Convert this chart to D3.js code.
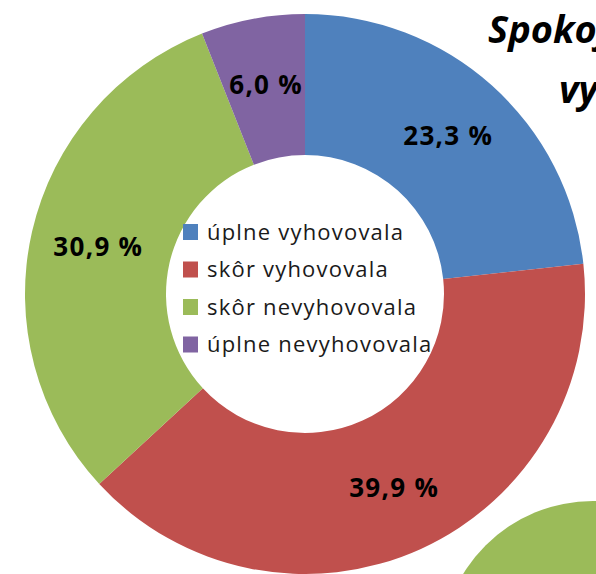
<!DOCTYPE html>
<html>
<head>
<meta charset="utf-8">
<script src="https://cdn.jsdelivr.net/npm/d3@7"></script>
<style>
  html, body { margin: 0; padding: 0; background: #fff; overflow: hidden; }
  svg { display: block; }
</style>
</head>
<body>
<div id="chart"></div>
<script>
// chart data
const categories = ['úplne vyhovovala', 'skôr vyhovovala', 'skôr nevyhovovala', 'úplne nevyhovovala'];
const values = [23.3, 39.9, 30.9, 6.0];
const valueLabels = ['23,3 %', '39,9 %', '30,9 %', '6,0 %'];
const colors = ['#4f81bd', '#c0504d', '#9bbb59', '#8064a2'];
const titleLines = ['Spokojnosť', 'vyučovaním'];

const width = 596, height = 574;
const cx = 305, cy = 294;
const outerR = 280, innerR = 139;

const svg = d3.select('#chart')
  .append('svg')
  .attr('width', width)
  .attr('height', height);

// decorative piece of the next chart, bottom right
svg.append('circle')
  .attr('cx', 593)
  .attr('cy', 653)
  .attr('r', 152)
  .attr('fill', '#9bbb59');

const pie = d3.pie().sort(null).value(d => d);
const arc = d3.arc().innerRadius(innerR).outerRadius(outerR);
const labelArc = d3.arc().innerRadius(213).outerRadius(213);

const g = svg.append('g').attr('transform', `translate(${cx},${cy})`);

const arcs = pie(values);

g.selectAll('path')
  .data(arcs)
  .enter()
  .append('path')
  .attr('d', arc)
  .attr('fill', (d, i) => colors[i]);

g.selectAll('text.val')
  .data(arcs)
  .enter()
  .append('text')
  .attr('class', 'val')
  .attr('x', d => labelArc.centroid(d)[0] + 1)
  .attr('y', d => labelArc.centroid(d)[1])
  .attr('dy', '0.36em')
  .attr('text-anchor', 'middle')
  .attr('font-family', 'Open Sans, sans-serif')
  .attr('font-weight', 'bold')
  .attr('font-size', 26)
  .attr('letter-spacing', 1.3)
  .attr('fill', '#000')
  .text((d, i) => valueLabels[i]);

// legend inside the hole
const legend = svg.append('g').attr('transform', 'translate(183,232)');
const row = legend.selectAll('g')
  .data(categories)
  .enter()
  .append('g')
  .attr('transform', (d, i) => `translate(0,${i * 37.5})`);

row.append('rect')
  .attr('x', 0)
  .attr('y', -8)
  .attr('width', 15)
  .attr('height', 16)
  .attr('fill', (d, i) => colors[i]);

row.append('text')
  .attr('x', 24)
  .attr('y', 0)
  .attr('dy', '0.36em')
  .attr('font-family', 'Open Sans, sans-serif')
  .attr('font-size', 22)
  .attr('letter-spacing', 1.2)
  .attr('fill', '#1a1a1a')
  .text(d => d);

// title, cut off by the right edge
svg.selectAll('text.title')
  .data(titleLines)
  .enter()
  .append('text')
  .attr('class', 'title')
  .attr('x', (d, i) => i === 0 ? 488 : 559)
  .attr('y', (d, i) => i === 0 ? 43 : 103)
  .attr('font-family', 'Open Sans, sans-serif')
  .attr('font-weight', 'bold')
  .attr('font-style', 'italic')
  .attr('font-size', 38)
  .attr('fill', '#000')
  .text(d => d);
</script>
</body>
</html>
